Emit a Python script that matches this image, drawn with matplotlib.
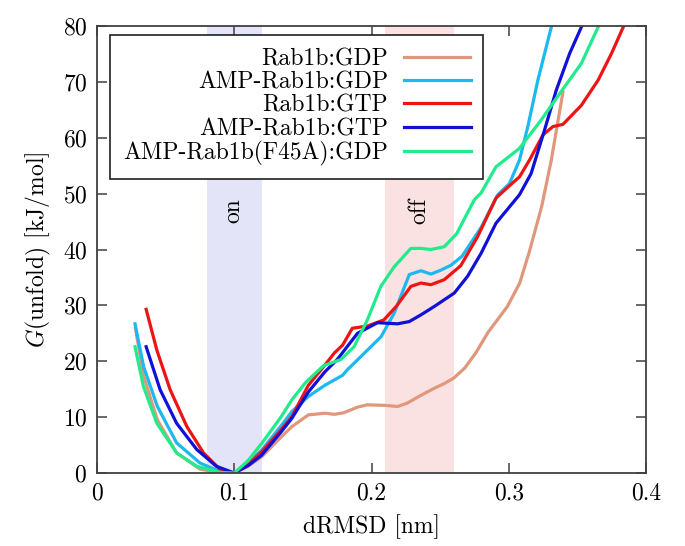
import numpy as np
import matplotlib
matplotlib.use("Agg")
import matplotlib.pyplot as plt

plt.rcParams['font.family'] = ['cmr10', 'DejaVu Serif']
plt.rcParams['mathtext.fontset'] = 'cm'
plt.rcParams['axes.formatter.use_mathtext'] = True

labels = ["Rab1b:GDP", "AMP-Rab1b:GDP", "Rab1b:GTP", "AMP-Rab1b:GTP",
          "AMP-Rab1b(F45A):GDP"]
colors = ["#E0977C", "#1CB8F0", "#EE1414", "#1010D8", "#20EC8C"]

# Rab1b:GDP
x_gdp = [0.028, 0.034, 0.044, 0.058, 0.075, 0.088, 0.1, 0.11, 0.12, 0.134,
         0.142, 0.154, 0.166, 0.173, 0.18, 0.19, 0.197, 0.21, 0.219, 0.226,
         0.236, 0.246, 0.253, 0.26, 0.268, 0.276, 0.285, 0.292, 0.299, 0.308,
         0.315, 0.324, 0.331, 0.3395]
y_gdp = [25.9, 17.3, 9.5, 3.6, 0.7, 0.1, 0.0, 1.2, 2.9, 6.4,
         8.3, 10.4, 10.7, 10.5, 10.8, 11.8, 12.2, 12.1, 11.9, 12.5,
         13.9, 15.2, 16.0, 17.0, 18.8, 21.5, 25.2, 27.5, 29.8, 34.0,
         39.6, 47.7, 56.0, 68.2]

# AMP-Rab1b:GDP
x_amp_gdp = [0.0277, 0.034, 0.044, 0.058, 0.075, 0.09, 0.1, 0.11, 0.12, 0.134,
             0.142, 0.154, 0.166, 0.179, 0.1825, 0.195, 0.207, 0.2165, 0.2275,
             0.236, 0.2433, 0.2505, 0.258, 0.266, 0.28, 0.292, 0.3005, 0.3078,
             0.3139, 0.3212, 0.331]
y_amp_gdp = [26.7, 19.0, 11.9, 5.4, 1.8, 0.2, 0.0, 1.8, 4.1, 8.4,
             11.0, 13.7, 15.7, 17.5, 18.5, 21.5, 24.4, 28.6, 35.5,
             36.2, 35.6, 36.3, 37.2, 38.8, 44.0, 49.8, 51.8, 56.0,
             62.0, 70.3, 79.8]

# Rab1b:GTP
x_gtp = [0.0358, 0.0436, 0.0533, 0.0655, 0.0776, 0.0898, 0.1, 0.11, 0.12,
         0.134, 0.142, 0.154, 0.166, 0.173, 0.179, 0.186, 0.197, 0.209, 0.218,
         0.2287, 0.236, 0.2433, 0.253, 0.265, 0.2773, 0.2907, 0.3, 0.3078,
         0.3151, 0.3249, 0.3322, 0.3395, 0.3529, 0.3651, 0.3749, 0.3834]
y_gtp = [29.3, 22.0, 14.9, 8.3, 3.6, 0.6, 0.0, 1.5, 3.8,
         7.7, 10.1, 15.7, 19.3, 21.5, 22.9, 25.9, 26.3, 27.4, 29.8,
         33.4, 34.0, 33.7, 34.6, 37.1, 42.3, 49.2, 51.3, 53.0,
         56.0, 60.5, 62.0, 62.4, 65.8, 70.3, 75.1, 79.8]

# AMP-Rab1b:GTP
x_amp_gtp = [0.0358, 0.046, 0.058, 0.0727, 0.087, 0.1, 0.11, 0.12, 0.134,
             0.142, 0.154, 0.166, 0.175, 0.1898, 0.2044, 0.219, 0.2275, 0.236,
             0.2457, 0.2603, 0.27, 0.2798, 0.2907, 0.3078, 0.3163, 0.3261,
             0.3346, 0.3444, 0.3529]
y_amp_gtp = [22.6, 14.9, 8.9, 4.2, 1.2, 0.0, 1.3, 3.2, 7.3,
             9.8, 14.5, 18.1, 20.3, 25.0, 26.9, 26.7, 27.1, 28.3,
             29.8, 32.2, 35.2, 39.3, 44.7, 49.8, 53.6, 61.4,
             68.5, 75.1, 79.8]

# AMP-Rab1b(F45A):GDP
x_f45a = [0.0277, 0.0338, 0.0436, 0.058, 0.0727, 0.09, 0.1, 0.11, 0.12, 0.134,
          0.142, 0.152, 0.165, 0.1776, 0.1873, 0.197, 0.2068, 0.2165, 0.2287,
          0.236, 0.2433, 0.253, 0.262, 0.2749, 0.2798, 0.2907, 0.3078, 0.3237,
          0.3371, 0.3529, 0.3651]
y_f45a = [22.6, 15.5, 8.9, 3.6, 1.2, 0.1, 0.0, 2.2, 5.3, 10.0,
          13.1, 16.2, 19.2, 20.3, 22.6, 27.4, 33.4, 36.9, 40.2,
          40.2, 40.0, 40.5, 42.8, 48.9, 50.1, 54.8, 58.1, 63.2,
          67.9, 73.3, 79.8]

on_band = (0.08, 0.12)
off_band = (0.21, 0.26)

xs = [x_gdp, x_amp_gdp, x_gtp, x_amp_gtp, x_f45a]
ys = [y_gdp, y_amp_gdp, y_gtp, y_amp_gtp, y_f45a]

fs = 17

fig = plt.figure(figsize=(6.85, 5.46), dpi=100)
ax = fig.add_axes([97/685, 1-473/546, 549/685, 447/546])

ax.axvspan(on_band[0], on_band[1], color="#E4E4F8", lw=0, zorder=0)
ax.axvspan(off_band[0], off_band[1], color="#FBE2E2", lw=0, zorder=0)
ax.text(0.0996, 47, "on", rotation=90, ha="center", va="center", fontsize=fs)
ax.text(0.2345, 47, "off", rotation=90, ha="center", va="center", fontsize=fs)

for x, y, c, lab in zip(xs, ys, colors, labels):
    ax.plot(x, y, color=c, lw=2.3, label=lab)

ax.set_xlim(0, 0.4)
ax.set_ylim(0, 80)
ax.set_xticks([0, 0.1, 0.2, 0.3, 0.4])
ax.set_xticklabels(["0", "0.1", "0.2", "0.3", "0.4"])
ax.set_yticks(np.arange(0, 81, 10))
ax.tick_params(direction="in", top=True, right=True, length=7, width=1.1,
               color="#404040", labelsize=fs, pad=7)
for s in ax.spines.values():
    s.set_color("#404040")
    s.set_linewidth(1.3)

ax.set_xlabel("dRMSD [nm]", fontsize=fs, labelpad=7)
ax.set_ylabel("$G$(unfold) [kJ/mol]", fontsize=fs, labelpad=7)

leg = ax.legend(loc="upper left", bbox_to_anchor=(13/549, 1-9/447),
                markerfirst=False, fontsize=fs, frameon=True, fancybox=False,
                framealpha=1, handlelength=2.8, handletextpad=0.7,
                labelspacing=0.05, borderpad=0.55, borderaxespad=0)
leg.get_frame().set_edgecolor("#202020")
leg.get_frame().set_linewidth(1.2)

fig.savefig("out.png", dpi=100)
